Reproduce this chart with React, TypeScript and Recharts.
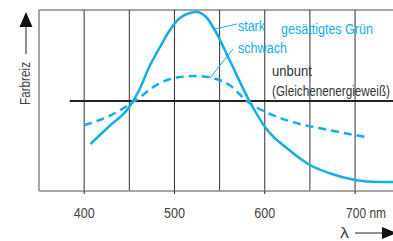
import { ComposedChart, Line, XAxis, YAxis, ReferenceLine } from "recharts"

// wavelength in nm, value = arbitrary "Farbreiz" units (0..181)
const strongNm = [407, 428, 450, 461, 472, 484, 495, 506, 517, 524, 535, 544, 561, 583, 601, 627, 650, 671, 700, 726, 742]
const strongVal = [47, 65, 84, 101, 124, 144, 161, 173, 178, 179, 174, 162, 131, 90, 63, 41, 26, 18, 11, 9, 9]

const weakNm = [400, 428, 456, 484, 506, 526, 542, 561, 580, 601, 627, 671, 712]
const weakVal = [66, 75, 90, 108, 114, 115, 113, 106, 90, 79, 70, 61, 54]

const gridNm = [400, 450, 500, 550, 600, 650, 700]
const tickNm = [400, 500, 600, 700]
const neutralLevel = 90

const strongData = strongNm.map((nm, i) => ({ nm, v: strongVal[i] }))
const weakData = weakNm.map((nm, i) => ({ nm, v: weakVal[i] }))

const BLUE = "#14ade6"
const FONT = "'Liberation Sans', Arial, sans-serif"

// condensed-looking text: small font stretched vertically, squeezed to the measured width
const T = ({ x, y, w, fill = "#444", rotate = 0, children }: any) => (
  <text
    transform={`translate(${x} ${y}) rotate(${rotate}) scale(1 1.32)`}
    fontSize={11.5}
    fontFamily={FONT}
    fill={fill}
    textLength={w}
    lengthAdjust="spacingAndGlyphs"
  >
    {children}
  </text>
)

const Tick = (props: any) => {
  const { x, y, payload } = props
  if (payload.value === 700) {
    return <T x={x - 9} y={y + 22} w={40}>700 nm</T>
  }
  return <T x={x - 10.5} y={y + 22} w={21}>{payload.value}</T>
}

export default function App() {
  return (
    <div style={{ position: "absolute", left: 0, top: 0, width: 393, height: 241, overflow: "hidden", background: "#fff" }}>
      <ComposedChart width={393} height={241} margin={{ top: 10, right: 0, bottom: 0, left: 39 }}>
        <XAxis
          type="number"
          dataKey="nm"
          domain={[350, 742]}
          ticks={tickNm}
          height={50}
          tick={<Tick />}
          tickSize={3}
          tickLine={{ stroke: "#222" }}
          axisLine={{ stroke: "#888", strokeWidth: 1.5 }}
          allowDataOverflow
        />
        <YAxis type="number" domain={[0, 181]} hide allowDataOverflow />
        <ReferenceLine x={350} stroke="#888" strokeWidth={1.5} />
        <ReferenceLine y={181} stroke="#888" strokeWidth={1.5} />
        {gridNm.map((g) => (
          <ReferenceLine key={g} x={g} stroke="#333" strokeWidth={1} />
        ))}
        <ReferenceLine
          segment={[{ x: 384, y: neutralLevel }, { x: 742, y: neutralLevel }]}
          stroke="#222"
          strokeWidth={2}
        />
        <Line data={strongData} dataKey="v" type="monotone" stroke={BLUE} strokeWidth={2.5} dot={false} isAnimationActive={false} />
        <Line data={weakData} dataKey="v" type="monotone" stroke={BLUE} strokeWidth={2.5} strokeDasharray="8 5" dot={false} isAnimationActive={false} />
      </ComposedChart>
      <svg width={393} height={241} style={{ position: "absolute", left: 0, top: 0 }}>
        <T x={29.5} y={105} w={43} rotate={-90}>Farbreiz</T>
        <line x1={26} y1={54} x2={26} y2={26} stroke="#222" strokeWidth={1} />
        <polygon points="26,12 19.5,27 32.5,27" fill="#111" />
        <T x={340} y={238} w={9}>λ</T>
        <line x1={355} y1={233} x2={383} y2={233} stroke="#222" strokeWidth={1} />
        <polygon points="397,233 382,227 382,239" fill="#111" />
        <line x1={215} y1={29} x2={237} y2={24} stroke={BLUE} strokeWidth={1} />
        <line x1={210} y1={78} x2={233} y2={49} stroke={BLUE} strokeWidth={1} />
        <T x={238} y={31} w={27} fill={BLUE}>stark</T>
        <T x={238} y={53} w={49} fill={BLUE}>schwach</T>
        <T x={281} y={34} w={92} fill={BLUE}>gesättigtes Grün</T>
        <T x={272} y={76} w={40} fill="#333">unbunt</T>
        <T x={272} y={96} w={118} fill="#333">(Gleichenenergieweiß)</T>
      </svg>
    </div>
  )
}
